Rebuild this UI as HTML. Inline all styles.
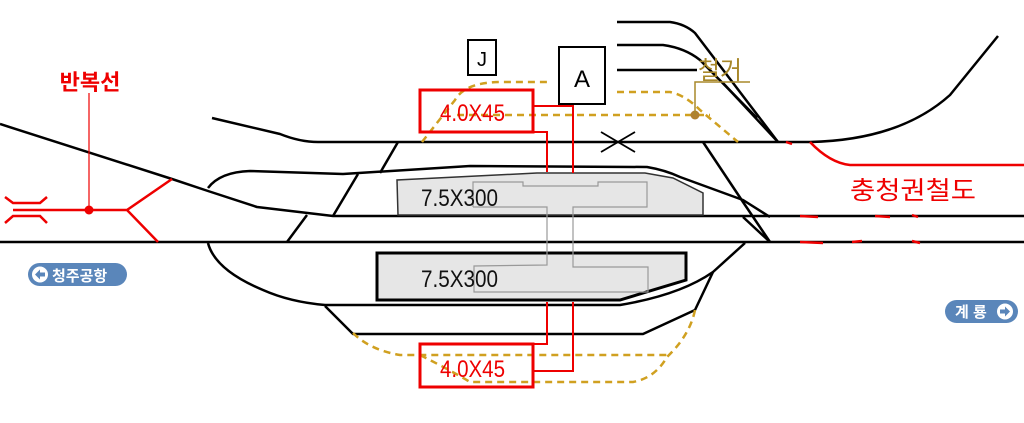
<!DOCTYPE html>
<html><head><meta charset="utf-8"><style>
html,body{margin:0;padding:0;background:#fff;width:1024px;height:423px;overflow:hidden}
svg{display:block}
text{font-family:"Liberation Sans","Noto Sans CJK KR",sans-serif}
</style></head><body>
<svg width="1024" height="423" viewBox="0 0 1024 423" xmlns="http://www.w3.org/2000/svg">
<g fill="none" stroke="#000" stroke-width="2.5" stroke-linejoin="round">
<path d="M212,118 L280,134 Q300,142 318,142 L810,142 Q900,140 950,95 L998,36"/>
<path d="M0,124 L172,179 L208,191 L257,207 L333,216 L1024,216"/>
<path d="M0,242 L1024,242"/>
<path d="M208,188 Q220,172 250,171 L343,174 L470,166 L647,167 Q665,170 680,177 L743,200 L770,217"/>
<path d="M333,216 L358,174"/><path d="M380,173 L398,142"/>
<path d="M287,242 L307,215"/>
<path d="M703,142 L743,202 L770,242"/>
<path d="M743,217 L770,242"/>
<path d="M208,243 Q215,270 263,290 Q290,302 325,305 L620,305 Q680,295 713,272 L745,243"/>
<path d="M325,306 L353,334 L643,334 L695,310 L713,272"/>
<path d="M617,22 L670,22 Q685,24 695,33 L778,142"/>
<path d="M617,45 L663,45 Q685,48 700,60 L757,118"/>
<path d="M617,70 L697,70"/>
<path d="M723,83 L778,142"/>
<path d="M601,132 L618,142 L601,152 M635,132 L618,142 L635,152 M605,142 L631,142" stroke-width="1.8"/>
</g>
<polygon points="397,180 398,215 703,215 703,193 673,178 645,173 537,173" fill="#e6e6e6" stroke="#333" stroke-width="1.5"/>
<polygon points="377,253 686,253 686,280 620,300 377,300" fill="#e6e6e6" stroke="#000" stroke-width="3"/>
<g fill="none" stroke="#999" stroke-width="1.2">
<path d="M473,207 L473,182 L523,182 L523,186 L598,186 L598,182 L647,182 L647,207 L573,207 L573,267 L648,267 L648,292 L474,292 L474,266 L547,265 L547,207 L473,207"/>
</g>
<text x="421" y="206" font-size="24" fill="#111" textLength="77" lengthAdjust="spacingAndGlyphs">7.5X300</text>
<text x="421" y="287" font-size="24" fill="#111" textLength="77" lengthAdjust="spacingAndGlyphs">7.5X300</text>
<g fill="none" stroke="#d0a020" stroke-width="2.5" stroke-dasharray="7,5">
<path d="M422,142 L455,100 Q465,82 502,82 L548,82"/>
<path d="M457,115 L710,115"/>
<path d="M617,92 L670,92 Q685,95 700,110 L738,142"/>
<path d="M353,333 Q370,350 400,355 L667,355"/>
<path d="M420,355 Q450,370 470,382 L633,382 Q655,378 667,357 Q690,335 695,310"/>
</g>
<circle cx="695" cy="115" r="4.5" fill="#b08030"/>
<path d="M695,115 L695,82 L750,82" stroke="#a8882a" stroke-width="1.5" fill="none"/>
<text x="698" y="79" font-size="25" fill="#a8882a" textLength="44" lengthAdjust="spacingAndGlyphs">철거</text>
<g fill="none" stroke="#e00" stroke-width="2">
<path d="M533,106 L573,106 L573,173 M533,132 L547,132 L547,172"/>
<path d="M533,344 L547,344 L547,302 M533,371 L573,371 L573,302"/>
</g>
<rect x="420" y="90" width="113" height="42" fill="none" stroke="#e00" stroke-width="3"/>
<rect x="420" y="344" width="113" height="43" fill="none" stroke="#e00" stroke-width="3"/>
<text x="440" y="121" font-size="24" fill="#e00" textLength="65" lengthAdjust="spacingAndGlyphs">4.0X45</text>
<text x="440" y="377" font-size="24" fill="#e00" textLength="65" lengthAdjust="spacingAndGlyphs">4.0X45</text>
<rect x="468" y="40" width="28" height="35" fill="#fff" stroke="#000" stroke-width="2"/>
<text x="482" y="66" font-size="20" text-anchor="middle">J</text>
<rect x="559" y="47" width="46" height="57" fill="#fff" stroke="#000" stroke-width="2"/>
<text x="582" y="87" font-size="24" text-anchor="middle">A</text>
<text x="90" y="90" font-size="22" font-weight="bold" fill="#e00" text-anchor="middle">반복선</text>
<g stroke="#e00" stroke-width="2.5" fill="none">
<path d="M89,93 L89,210" stroke-width="1.2"/>
<path d="M40,210 L127,210 L172,179 M127,210 L158,242"/>
<path d="M5,197 L13,203 L40,203 L47,197 M5,223 L13,216 L40,216 L47,223 M13,210 L40,210"/>
</g>
<circle cx="89" cy="210" r="4.5" fill="#e00"/>
<path d="M810,142 Q830,163 850,165 L1024,165" stroke="#e00" stroke-width="2.5" fill="none"/>
<path d="M786,142 L792,144" stroke="#e00" stroke-width="2.5"/>
<g stroke="#e00" stroke-width="2.5">
<path d="M800,216 L818,217 M875,216 L890,217 M912,215 L918,217 M800,242 L823,243 M852,242 L862,241 M912,241 L920,243"/>
</g>
<text x="850" y="199" font-size="25" fill="#e00" textLength="126" lengthAdjust="spacingAndGlyphs">충청권철도</text>
<rect x="28" y="263" width="99" height="23" rx="11.5" fill="#5a86ba"/>
<circle cx="40" cy="274.5" r="8" fill="#fff"/>
<path d="M35,274.5 L40,269.5 L40,272.5 L45,272.5 L45,276.5 L40,276.5 L40,279.5 Z" fill="#5a86ba"/>
<text x="52" y="281" font-size="15" font-weight="bold" fill="#fff">청주공항</text>
<rect x="945" y="300" width="73" height="23" rx="11.5" fill="#5a86ba"/>
<text x="955" y="317" font-size="15" font-weight="bold" fill="#fff">계 룡</text>
<circle cx="1005" cy="311.5" r="8" fill="#fff"/>
<path d="M1010,311.5 L1005,306.5 L1005,309.5 L1000,309.5 L1000,313.5 L1005,313.5 L1005,316.5 Z" fill="#5a86ba"/>
</svg>
</body></html>
